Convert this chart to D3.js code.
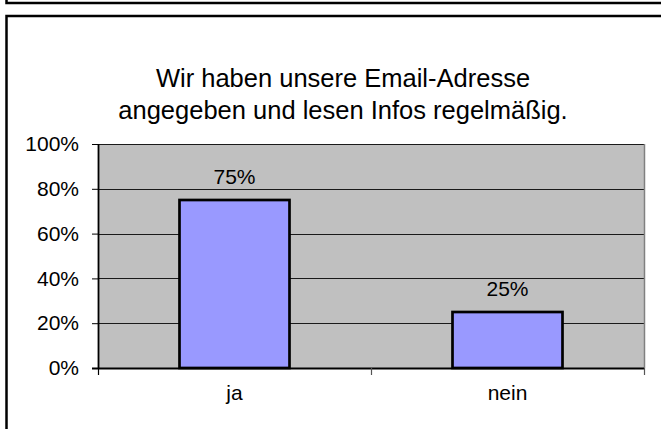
<!DOCTYPE html>
<html><head><meta charset="utf-8">
<script src="https://cdn.jsdelivr.net/npm/d3@7"></script>
<style>body{margin:0;background:#fff}svg{display:block}</style>
</head><body>
<script>
const categories = ["ja", "nein"];
const values = [0.75, 0.25];
const yTicks = [0, 0.2, 0.4, 0.6, 0.8, 1.0];
const titleLines = ["Wir haben unsere Email-Adresse", "angegeben und lesen Infos regelmäßig."];

const W = 661, H = 429;
const svg = d3.select("body").append("svg").attr("width", W).attr("height", H);
const font = "Arial, 'Liberation Sans', sans-serif";

// outer frames
svg.append("rect").attr("x", 6.5).attr("y", -20).attr("width", 700).attr("height", 23)
  .attr("fill", "none").attr("stroke", "#000").attr("stroke-width", 2.5);
svg.append("rect").attr("x", 6.5).attr("y", 16).attr("width", 700).attr("height", 450)
  .attr("fill", "none").attr("stroke", "#000").attr("stroke-width", 2.5);

const plot = {l: 98, r: 644, t: 144, b: 368};
const x = d3.scaleBand().domain(categories).range([plot.l, plot.r]).paddingInner(0).paddingOuter(0);
const y = d3.scaleLinear().domain([0, 1]).range([plot.b, plot.t]);

svg.append("rect").attr("x", plot.l).attr("y", plot.t)
  .attr("width", plot.r - plot.l).attr("height", plot.b - plot.t).attr("fill", "#c0c0c0");

// gridlines
svg.append("g").selectAll("line").data(yTicks.filter(d => d > 0)).join("line")
  .attr("x1", plot.l).attr("x2", plot.r)
  .attr("y1", d => Math.round(y(d)) + 0.5).attr("y2", d => Math.round(y(d)) + 0.5)
  .attr("stroke", "#1a1a1a").attr("stroke-width", 1);

// right border
svg.append("line").attr("x1", plot.r + 0.5).attr("x2", plot.r + 0.5)
  .attr("y1", plot.t).attr("y2", plot.b).attr("stroke", "#808080").attr("stroke-width", 1.5);

// bars
const barW = 110;
svg.append("g").selectAll("rect").data(categories).join("rect")
  .attr("x", (d) => x(d) + x.bandwidth() / 2 - barW / 2)
  .attr("y", (d, i) => y(values[i]))
  .attr("width", barW)
  .attr("height", (d, i) => y(0) - y(values[i]))
  .attr("fill", "#9999ff").attr("stroke", "#000").attr("stroke-width", 2.7);

// data labels
svg.append("g").selectAll("text").data(categories).join("text")
  .attr("x", d => x(d) + x.bandwidth() / 2)
  .attr("y", (d, i) => y(values[i]) - 16)
  .attr("text-anchor", "middle").attr("font-family", font).attr("font-size", 21)
  .attr("fill", "#000").text((d, i) => Math.round(values[i] * 100) + "%");

// y axis
const yAxis = d3.axisLeft(y).tickValues(yTicks).tickFormat(d3.format(".0%")).tickSize(6).tickPadding(13);
const gy = svg.append("g").attr("transform", `translate(${plot.l},0)`).call(yAxis);
gy.select(".domain").attr("stroke", "#000").attr("stroke-width", 1.8).attr("d", `M0.5,${plot.t}V${plot.b}`);
gy.selectAll(".tick line").attr("stroke", "#000");
gy.selectAll(".tick text").attr("font-family", font).attr("font-size", 21).attr("fill", "#000");

// x axis
const xAxis = d3.axisBottom(x).tickSize(0).tickPadding(17);
const gx = svg.append("g").attr("transform", `translate(0,${plot.b})`).call(xAxis);
gx.select(".domain").attr("stroke", "#000").attr("stroke-width", 1.8).attr("d", `M${plot.l - 6},0.5H${plot.r}`);
gx.selectAll(".tick text").attr("font-family", font).attr("font-size", 21).attr("fill", "#000");
// category separator ticks
const seps = [plot.l, x(categories[1]), plot.r];
svg.append("g").selectAll("line").data(seps).join("line")
  .attr("x1", d => d + 0.5).attr("x2", d => d + 0.5)
  .attr("y1", plot.b).attr("y2", plot.b + 7)
  .attr("stroke", (d, i) => i === 0 ? "#000" : "#555").attr("stroke-width", 1.2);

// title
svg.append("g").selectAll("text").data(titleLines).join("text")
  .attr("x", 343).attr("y", (d, i) => 87 + i * 32)
  .attr("text-anchor", "middle").attr("font-family", font).attr("font-size", 25.5)
  .attr("fill", "#000").text(d => d);
</script>
</body></html>
